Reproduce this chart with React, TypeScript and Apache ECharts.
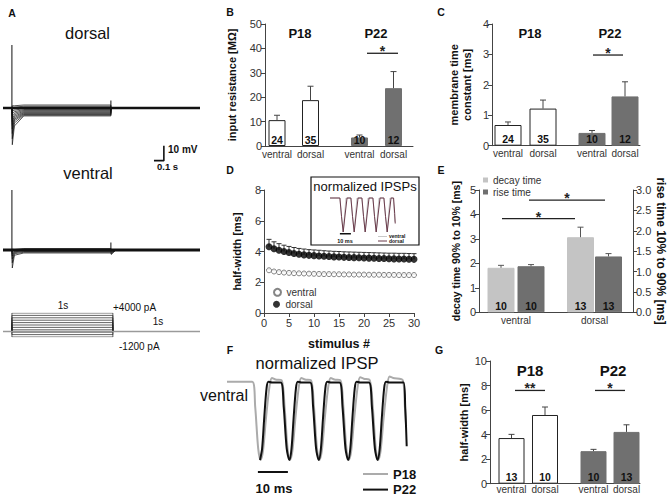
import React, { useEffect, useRef } from 'react';
import * as echarts from 'echarts';

const FONT = "'Liberation Sans', Arial, Helvetica, sans-serif";

// ---------------- Panel A (current-clamp traces, mV over s) ----------------
const dorsalPeak = [1.5, 0.5, -0.5, -2, -3.5, -5, -7, -9, -11.5, -14, -17, -20.5, -24.5];
const dorsalMid = [1.5, 0.5, -0.5, -1.5, -2.5, -3.5, -4.5, -5.5, -6.5, -7.5, -8.5, -10, -12];
const dorsalSteady = [2, 1.2, 0.5, -0.3, -1, -1.6, -2.2, -2.8, -3.3, -3.8, -4.3, -4.8, -5.3];
const ventralPeak = [0.5, -1, -2.5, -4, -6, -8.5, -12];
const ventralMid = [0.3, -0.2, -0.7, -1.2, -1.8, -2.5, -3.5];
const ventralSteady = [1, 0.5, 0, -0.5, -1, -1.5, -2];
const ventralOff = [0, -0.5, -1, -1.5, -2, -2.5, -3];
const artifactDorsal = 42;
const artifactVentral = 40;
const offArtifact = 5;
const stimLevels = [-1200, -680, -160, 360, 880, 1400, 1920, 2440, 2960, 3480, 4000];
const scaleBarA = [[1.435, -35.1], [1.535, -35.1], [1.535, -25.1]];

// ---------------- Panel B ----------------
const groupLabels = ['ventral', 'dorsal', 'ventral', 'dorsal'];
const resistMean = [10.6, 18.8, 3.5, 23.7];
const resistErr = [2.0, 5.7, 1.0, 6.8];
const resistN = [24, 35, 10, 12];
const resistSig = [[102, 133, 38]];
const resistSigLabel = ['*'];

// ---------------- Panel C ----------------
const tauMean = [0.68, 1.22, 0.42, 1.62];
const tauErr = [0.1, 0.28, 0.08, 0.48];
const tauN = [24, 35, 10, 12];
const tauSig = [[101, 131, 2.98]];
const tauSigLabel = ['*'];

// ---------------- Panel D ----------------
const stimulusNo = [1, 2, 3, 4, 5, 6, 7, 8, 9, 10, 11, 12, 13, 14, 15, 16, 17, 18, 19, 20, 21, 22, 23, 24, 25, 26, 27, 28, 29, 30];
const hwVentral = [2.78, 2.7, 2.66, 2.63, 2.61, 2.59, 2.58, 2.57, 2.56, 2.55, 2.54, 2.53, 2.53, 2.52, 2.52, 2.51, 2.51, 2.5, 2.5, 2.5, 2.49, 2.49, 2.49, 2.48, 2.48, 2.48, 2.47, 2.47, 2.47, 2.47];
const hwVentralErr = [0.08, 0.07, 0.07, 0.06, 0.06, 0.06, 0.06, 0.06, 0.06, 0.06, 0.06, 0.06, 0.06, 0.06, 0.06, 0.06, 0.06, 0.06, 0.06, 0.06, 0.06, 0.06, 0.06, 0.06, 0.06, 0.06, 0.06, 0.06, 0.06, 0.06];
const hwDorsal = [4.31, 4.18, 4.08, 4.0, 3.93, 3.87, 3.82, 3.78, 3.75, 3.73, 3.71, 3.69, 3.67, 3.65, 3.64, 3.62, 3.61, 3.6, 3.59, 3.58, 3.57, 3.56, 3.55, 3.54, 3.53, 3.52, 3.51, 3.51, 3.5, 3.49];
const hwDorsalErr = [0.48, 0.45, 0.43, 0.41, 0.4, 0.39, 0.38, 0.38, 0.37, 0.37, 0.37, 0.36, 0.36, 0.36, 0.36, 0.36, 0.36, 0.36, 0.36, 0.36, 0.36, 0.36, 0.36, 0.36, 0.36, 0.37, 0.37, 0.37, 0.37, 0.37];
// inset: normalized IPSPs (ms, normalized amplitude)
const insetVentral = [[0, 0], [9, 0], [10.5, -0.55], [12, -1], [13.2, -0.5], [14.5, 0], [19, 0], [20.5, -0.55], [22, -1], [23.2, -0.5], [24.5, 0], [29, 0], [30.5, -0.55], [32, -1], [33.2, -0.5], [34.5, 0], [39, 0], [40.5, -0.55], [42, -1], [43.2, -0.5], [44.5, 0], [49, 0], [50.5, -0.55], [52, -1], [53.2, -0.5], [54.5, 0], [57.5, 0], [58.5, -0.45], [59, -0.7]];
const insetDorsal = [[0, 0], [9, 0], [10.5, -0.55], [12, -1], [13.7, -0.5], [15.5, 0], [19, 0], [20.5, -0.55], [22, -1], [23.7, -0.5], [25.5, 0], [29, 0], [30.5, -0.55], [32, -1], [33.7, -0.5], [35.5, 0], [39, 0], [40.5, -0.55], [42, -1], [43.7, -0.5], [45.5, 0], [49, 0], [50.5, -0.55], [52, -1], [53.7, -0.5], [55.5, 0], [57.8, 0], [58.8, -0.45], [59.3, -0.75]];
const insetScaleBar = [[9, -1.05], [19, -1.05]];

// ---------------- Panel E ----------------
const eLabels = ['ventral', 'dorsal'];
const decayMean = [1.82, 3.07];
const decayErr = [0.1, 0.41];
const decayN = [10, 13];
const riseMean = [1.13, 1.37];
const riseErr = [0.04, 0.07];
const riseN = [10, 13];
const eSig = [[23, 96, 3.83], [50, 126, 4.59]];
const eSigLabel = ['*', '*'];

// ---------------- Panel F (normalized IPSP, ms) ----------------
const ipspP18 = [[0, 0.03], [8.4, 0.03], [9.4, -0.3], [10.4, -0.85], [11.2, -1], [12.0, -0.88], [13.0, -0.45], [14.2, -0.02], [15.0, 0.08], [16.2, 0.06], [18.2, 0.05],
  [19.2, -0.3], [20.2, -0.85], [21.0, -1], [21.8, -0.88], [22.8, -0.45], [24.0, -0.02], [24.8, 0.08], [26.0, 0.06], [28.0, 0.05],
  [29.0, -0.3], [30.0, -0.85], [30.8, -1], [31.6, -0.88], [32.6, -0.45], [33.8, -0.02], [34.6, 0.08], [35.8, 0.06], [37.8, 0.05],
  [38.8, -0.3], [39.8, -0.85], [40.6, -1], [41.4, -0.88], [42.4, -0.45], [43.6, -0.02], [44.4, 0.09], [45.6, 0.07], [47.6, 0.05],
  [48.6, -0.3], [49.6, -0.85], [50.4, -1], [51.2, -0.88], [52.2, -0.45], [53.4, -0.02], [54.2, 0.1], [55.4, 0.08], [58.6, 0.05], [59.3, -0.3], [59.7, -0.55]];
const ipspP22 = [[11.0, -1], [11.7, -0.85], [12.4, -0.45], [13.2, -0.05], [13.8, 0.03], [15.0, 0.02], [17.9, 0.02], [18.9, -0.3], [19.9, -0.85],
  [20.8, -1], [21.5, -0.85], [22.2, -0.45], [23.0, -0.05], [23.6, 0.03], [24.8, 0.02], [27.7, 0.02], [28.7, -0.3], [29.7, -0.85],
  [30.6, -1], [31.3, -0.85], [32.0, -0.45], [32.8, -0.05], [33.4, 0.03], [34.6, 0.02], [37.5, 0.02], [38.5, -0.3], [39.5, -0.85],
  [40.4, -1], [41.1, -0.85], [41.8, -0.45], [42.6, -0.05], [43.2, 0.03], [44.4, 0.02], [47.3, 0.02], [48.3, -0.3], [49.3, -0.85],
  [50.2, -1], [50.9, -0.85], [51.6, -0.45], [52.4, -0.05], [53.0, 0.03], [54.2, 0.02], [58.8, 0.02], [59.4, -0.3], [59.9, -0.82]];
const fScaleBar = [[10.3, -1.158], [20.3, -1.158]];

// ---------------- Panel G ----------------
const hwMean = [3.72, 5.6, 2.65, 4.22];
const hwErr = [0.3, 0.65, 0.15, 0.58];
const hwN = [13, 10, 10, 13];
const hwSig = [[25, 55, 7.6], [105, 135, 7.6]];
const hwSigLabel = ['**', '*'];

// ---------------- layout (pixel positions within each panel) ----------------
const posB = [12, 45.5, 94.5, 128.5];
const posC = [16, 51, 100, 133];
const posG = [21.5, 55, 103.5, 136.5];
const posEDecay = [22, 101.5];
const posERise = [52, 129.5];
const posELabel = [37, 115.5];
const T_START = -0.09, T_END = 1.9, T_PEAK = 0.004, T_MID = 0.025, T_SET = 0.12, T_OFF = 1.0, T_STIM_OFF = 1.02;
const P18_FILL = '#ffffff';
const P22_FILL = '#707070';
const groupFills = [P18_FILL, P18_FILL, P22_FILL, P22_FILL];

const lineS = (xi: number, yi: number, data: any[], color: string, width: number, extra: any = {}) => ({
  type: 'line', xAxisIndex: xi, yAxisIndex: yi, data, symbol: 'none', showSymbol: false, silent: true,
  lineStyle: { color, width }, itemStyle: { color }, ...extra,
});

const errSeries = (xi: number, yi: number, data: any[], color: string, cap: number) => ({
  type: 'custom', xAxisIndex: xi, yAxisIndex: yi, data, silent: true, z: 5,
  encode: { x: 0, y: [1, 2] },
  renderItem: (params: any, api: any) => {
    const x = api.value(0);
    const a = api.coord([x, api.value(1)]);
    const b = api.coord([x, api.value(2)]);
    return {
      type: 'group', children: [
        { type: 'line', shape: { x1: a[0], y1: a[1], x2: b[0], y2: b[1] }, style: { stroke: color, lineWidth: 1 } },
        { type: 'line', shape: { x1: b[0] - cap, y1: b[1], x2: b[0] + cap, y2: b[1] }, style: { stroke: color, lineWidth: 1 } },
      ],
    };
  },
});

const sigSeries = (xi: number, yi: number, data: any[], labels: string[]) => ({
  type: 'custom', xAxisIndex: xi, yAxisIndex: yi, data, silent: true, z: 6,
  encode: { x: [0, 1], y: 2 },
  renderItem: (params: any, api: any) => {
    const a = api.coord([api.value(0), api.value(2)]);
    const b = api.coord([api.value(1), api.value(2)]);
    return {
      type: 'group', children: [
        { type: 'line', shape: { x1: a[0], y1: a[1], x2: b[0], y2: b[1] }, style: { stroke: '#222', lineWidth: 1.3 } },
        { type: 'text', style: { text: labels[params.dataIndex], x: (a[0] + b[0]) / 2, y: a[1] + 5, align: 'center', verticalAlign: 'bottom', font: `bold 14px ${FONT}`, fill: '#222' } },
      ],
    };
  },
});

const barSeries = (xi: number, yi: number, pos: number[], mean: number[], n: number[], fills: string[], width: number, name?: string, color?: string) => ({
  type: 'bar', name, xAxisIndex: xi, yAxisIndex: yi, barWidth: width, barGap: '-100%', silent: true,
  itemStyle: color ? { color } : undefined,
  data: pos.map((p, i) => ({ value: [p, mean[i]], itemStyle: { color: fills[i], borderColor: fills[i] === '#ffffff' ? '#222' : fills[i], borderWidth: 1 } })),
  label: { show: true, position: 'insideBottom', distance: 1, formatter: (p: any) => String(n[p.dataIndex]), fontFamily: FONT, fontSize: 10.5, fontWeight: 'bold', color: '#111' },
});

const yAx = (gridIndex: number, min: number, max: number, interval: number, name: string, nameGap: number, extra: any = {}) => ({
  type: 'value', gridIndex, min, max, interval, name, nameLocation: 'middle', nameGap,
  nameTextStyle: { fontFamily: FONT, fontWeight: 'bold', fontSize: 11, color: '#111', lineHeight: 13 },
  axisLine: { show: true, lineStyle: { color: '#444', width: 1 } },
  axisTick: { show: true, length: 4, lineStyle: { color: '#444' } },
  axisLabel: { fontFamily: FONT, fontSize: 11, color: '#333', margin: 3 },
  splitLine: { show: false },
  ...extra,
});

const barX = (gridIndex: number, W: number, pos: number[], labels: string[], margin: number) => ({
  type: 'value', gridIndex, min: 0, max: W,
  axisLine: { show: true, onZero: false, lineStyle: { color: '#444' } },
  axisTick: { show: false }, splitLine: { show: false },
  axisLabel: {
    customValues: pos,
    formatter: (v: number) => { const i = pos.findIndex((p) => Math.abs(p - v) < 1e-6); return i >= 0 ? labels[i] : ''; },
    fontFamily: FONT, fontSize: 10, color: '#333', margin,
  },
});

const hidden = (gridIndex: number, min: number, max: number) => ({ type: 'value', gridIndex, min, max, show: false, splitLine: { show: false } });

const txt = (text: string, x: number, y: number, size: number, bold = false, align = 'center', fill = '#111') => ({
  type: 'text', x, y, silent: true,
  style: { text, font: `${bold ? 'bold ' : ''}${size}px ${FONT}`, fill, align, verticalAlign: 'middle' },
});

const legendItem = (name: string, left: number, top: number, extra: any) => ({
  data: [name], left, top, orient: 'vertical', padding: 0, selectedMode: false, ...extra,
});

function buildOption() {
  const series: any[] = [];
  // A dorsal
  dorsalPeak.forEach((pk, i) => series.push(lineS(0, 0, [[T_START, 0], [0, 0], [T_PEAK, pk], [T_MID, dorsalMid[i]], [T_SET, dorsalSteady[i]], [T_OFF, dorsalSteady[i]], [T_OFF, 0], [T_END, 0]], '#111', 0.7)));
  series.push(lineS(0, 0, [[T_START, 0], [T_END, 0]], '#111', 2.5));
  series.push(lineS(0, 0, [[0, 0], [0, artifactDorsal]], '#111', 1));
  series.push(lineS(0, 0, [[T_OFF, 0], [T_OFF, offArtifact]], '#111', 1));
  series.push(lineS(0, 0, scaleBarA, '#111', 1.6));
  // A ventral
  ventralPeak.forEach((pk, i) => series.push(lineS(1, 1, [[T_START, 0], [0, 0], [T_PEAK, pk], [T_MID, ventralMid[i]], [T_SET, ventralSteady[i]], [T_OFF, ventralSteady[i]], [T_OFF + 0.004, ventralOff[i]], [T_OFF + 0.05, 0], [T_END, 0]], '#111', 0.7)));
  series.push(lineS(1, 1, [[T_START, 0], [T_END, 0]], '#111', 3));
  series.push(lineS(1, 1, [[0, 0], [0, artifactVentral]], '#111', 1));
  series.push(lineS(1, 1, [[T_OFF, 0], [T_OFF, offArtifact]], '#111', 1));
  // A stimulus
  stimLevels.forEach((L) => series.push(lineS(2, 2, [[0, 0], [0, L], [T_STIM_OFF, L], [T_STIM_OFF, 0]], '#222', 0.7)));
  series.push(lineS(2, 2, [[T_START, 0], [T_END, 0]], '#9a9a9a', 1.5));

  // B
  series.push(barSeries(3, 3, posB, resistMean, resistN, groupFills, 17));
  series.push(errSeries(3, 3, posB.map((p, i) => [p, resistMean[i], resistMean[i] + resistErr[i]]), '#444', 3));
  series.push(sigSeries(3, 3, resistSig, resistSigLabel));
  // C
  series.push(barSeries(4, 4, posC, tauMean, tauN, groupFills, 27));
  series.push(errSeries(4, 4, posC.map((p, i) => [p, tauMean[i], tauMean[i] + tauErr[i]]), '#444', 3));
  series.push(sigSeries(4, 4, tauSig, tauSigLabel));
  // D
  series.push(errSeries(5, 5, stimulusNo.map((s, i) => [s, hwDorsal[i], hwDorsal[i] + hwDorsalErr[i]]), '#333', 2.5));
  series.push(errSeries(5, 5, stimulusNo.map((s, i) => [s, hwVentral[i], hwVentral[i] + hwVentralErr[i]]), '#888', 2));
  series.push({ type: 'scatter', name: 'ventral', xAxisIndex: 5, yAxisIndex: 5, symbol: 'circle', symbolSize: 5, silent: true, z: 6,
    itemStyle: { color: '#ffffff', borderColor: '#666', borderWidth: 1 }, data: stimulusNo.map((s, i) => [s, hwVentral[i]]) });
  series.push({ type: 'scatter', name: 'dorsal', xAxisIndex: 5, yAxisIndex: 5, symbol: 'circle', symbolSize: 7, silent: true, z: 6,
    itemStyle: { color: '#000' }, data: stimulusNo.map((s, i) => [s, hwDorsal[i]]) });
  // D inset
  series.push(lineS(6, 6, insetVentral, '#c8c8c8', 1, { z: 7 }));
  series.push(lineS(6, 6, insetDorsal, '#6b3b4b', 1, { z: 8 }));
  series.push(lineS(6, 6, insetScaleBar, '#111', 1.5, { z: 8 }));
  // E
  series.push({ ...barSeries(7, 7, posEDecay, decayMean, decayN, ['#c4c4c4', '#c4c4c4'], 27, 'decay time', '#c4c4c4') });
  series.push({ ...barSeries(7, 8, posERise, riseMean, riseN, ['#6f6f6f', '#6f6f6f'], 27, 'rise time', '#6f6f6f') });
  series.push(errSeries(7, 7, posEDecay.map((p, i) => [p, decayMean[i], decayMean[i] + decayErr[i]]), '#555', 3));
  series.push(errSeries(7, 8, posERise.map((p, i) => [p, riseMean[i], riseMean[i] + riseErr[i]]), '#555', 3));
  series.push(sigSeries(7, 7, eSig, eSigLabel));
  // F
  series.push(lineS(8, 9, ipspP18, '#ababab', 2, { name: 'P18', smooth: 0.3 }));
  series.push(lineS(8, 9, ipspP22, '#111', 2, { name: 'P22', smooth: 0.3, z: 3 }));
  series.push(lineS(8, 9, fScaleBar, '#111', 2));
  // G
  series.push(barSeries(9, 10, posG, hwMean, hwN, groupFills, 26));
  series.push(errSeries(9, 10, posG.map((p, i) => [p, hwMean[i], hwMean[i] + hwErr[i]]), '#444', 3));
  series.push(sigSeries(9, 10, hwSig, hwSigLabel));

  const grid = [
    { left: 3, top: 40.5, width: 197, height: 127.5 },
    { left: 3, top: 182.5, width: 197, height: 112.5 },
    { left: 3, top: 313, width: 197, height: 24 },
    { left: 265, top: 24, width: 148, height: 122 },
    { left: 492, top: 24, width: 148, height: 121.7 },
    { left: 264, top: 190, width: 150, height: 123 },
    { left: 330, top: 194.6, width: 66, height: 47.6 },
    { left: 479, top: 190, width: 154, height: 122.3 },
    { left: 227, top: 374.9, width: 186, height: 100.3 },
    { left: 490, top: 361, width: 150, height: 122.7 },
  ].map((g) => ({ ...g, containLabel: false, outerBoundsMode: 'none' }));

  const xAxis = [
    hidden(0, T_START, T_END),
    hidden(1, T_START, T_END),
    hidden(2, T_START, T_END),
    barX(3, 148, posB, groupLabels, 3),
    barX(4, 148, posC, groupLabels, 3),
    {
      type: 'value', gridIndex: 5, min: 0, max: 30, interval: 5, name: 'stimulus #', nameLocation: 'middle', nameGap: 24,
      nameTextStyle: { fontFamily: FONT, fontWeight: 'bold', fontSize: 12.5, color: '#111' },
      axisLine: { show: true, onZero: false, lineStyle: { color: '#444' } },
      axisTick: { show: true, length: 4, lineStyle: { color: '#444' } },
      axisLabel: { fontFamily: FONT, fontSize: 11, color: '#333', margin: 4 }, splitLine: { show: false },
    },
    hidden(6, 0, 60),
    barX(7, 154, posELabel, eLabels, 3),
    hidden(8, 0, 62),
    barX(9, 150, posG, groupLabels, 1),
  ];

  const yAxis = [
    hidden(0, -40, 45),
    hidden(1, -30, 45),
    hidden(2, -1200, 4000),
    yAx(3, 0, 50, 10, 'input resistance [MΩ]', 27),
    yAx(4, 0, 4, 1, 'membrane time\nconstant [ms]', 19),
    yAx(5, 0, 8, 2, 'half-width [ms]', 21),
    hidden(6, -1.3, 0.1),
    yAx(7, 0, 5, 1, 'decay time 90% to 10% [ms]', 18, { nameTextStyle: { fontFamily: FONT, fontWeight: 'bold', fontSize: 10.5, color: '#111' } }),
    yAx(7, 0, 3, 0.5, 'rise time 10% to 90% [ms]', 22, {
      position: 'right', nameRotate: -90,
      nameTextStyle: { fontFamily: FONT, fontWeight: 'bold', fontSize: 12, color: '#111' },
      axisLabel: { fontFamily: FONT, fontSize: 11, color: '#333', margin: 3, formatter: (v: number) => v.toFixed(1) },
    }),
    hidden(8, -1.2, 0.12),
    yAx(9, 0, 10, 2, 'half-width [ms]', 18),
  ];

  const dStyle = { itemWidth: 8, itemHeight: 7, textStyle: { fontFamily: FONT, fontSize: 10, color: '#333', lineHeight: 10 } };
  const eStyle = { itemWidth: 5, itemHeight: 5, icon: 'rect', textStyle: { fontFamily: FONT, fontSize: 10, color: '#333', lineHeight: 10 } };
  const fStyle = { itemWidth: 25, itemHeight: 2, icon: 'rect', textStyle: { fontFamily: FONT, fontSize: 13, fontWeight: 'bold', color: '#111', lineHeight: 13 } };
  const legend = [
    legendItem('ventral', 273, 287.3, dStyle),
    legendItem('dorsal', 273, 299.3, dStyle),
    legendItem('decay time', 483, 175, eStyle),
    legendItem('rise time', 483, 187, eStyle),
    legendItem('P18', 363, 467.5, fStyle),
    legendItem('P22', 363, 483.1, fStyle),
  ];

  const graphic = {
    elements: [
      txt('A', 12, 13, 10.5, true), txt('B', 230, 12, 10.5, true), txt('C', 441, 12, 10.5, true),
      txt('D', 230, 170, 10.5, true), txt('E', 441, 170, 10.5, true), txt('F', 230, 350, 10.5, true), txt('G', 439, 350, 10.5, true),
      txt('dorsal', 87.5, 33, 16.5), txt('ventral', 88, 173, 16.5),
      txt('10 mV', 168, 149, 10, true, 'left'), txt('0.1 s', 157, 166, 9.5, true, 'left'),
      txt('1s', 63, 305, 10), txt('+4000 pA', 113, 307.5, 10, false, 'left'), txt('1s', 158, 321.5, 10), txt('-1200 pA', 119, 346.5, 10, false, 'left'),
      txt('P18', 300, 33, 13, true), txt('P22', 376, 33, 13, true),
      txt('P18', 530, 33, 13, true), txt('P22', 610, 33, 13, true),
      txt('P18', 530, 370, 15, true), txt('P22', 613, 370, 15, true),
      { type: 'rect', shape: { x: 311, y: 177, width: 108, height: 68 }, style: { fill: '#fff', stroke: '#111', lineWidth: 1.2 }, silent: true, z: 0 },
      txt('normalized IPSPs', 365, 186, 13),
      txt('10 ms', 345, 240.5, 5.5, true),
      { type: 'line', shape: { x1: 378, y1: 236.5, x2: 387, y2: 236.5 }, style: { stroke: '#c8c8c8', lineWidth: 1 }, silent: true },
      { type: 'line', shape: { x1: 378, y1: 241, x2: 387, y2: 241 }, style: { stroke: '#6b3b4b', lineWidth: 1 }, silent: true },
      txt('ventral', 389, 236.3, 5, true, 'left'), txt('dorsal', 389, 241.2, 5, true, 'left'),
      txt('normalized IPSP', 317, 363, 16.5),
      txt('ventral', 200, 395, 16, false, 'left'),
      txt('10 ms', 274, 488, 13, true),
    ],
  };

  return {
    animation: false,
    backgroundColor: '#ffffff',
    textStyle: { fontFamily: FONT },
    grid, xAxis, yAxis, legend, graphic, series,
  };
}

export default function App() {
  const ref = useRef<HTMLDivElement>(null);
  useEffect(() => {
    document.body.style.margin = '0';
    const chart = echarts.init(ref.current as HTMLDivElement, null, { renderer: 'svg' });
    chart.setOption(buildOption() as any);
    return () => chart.dispose();
  }, []);
  return <div ref={ref} style={{ width: 669, height: 498, background: '#fff' }} />;
}
